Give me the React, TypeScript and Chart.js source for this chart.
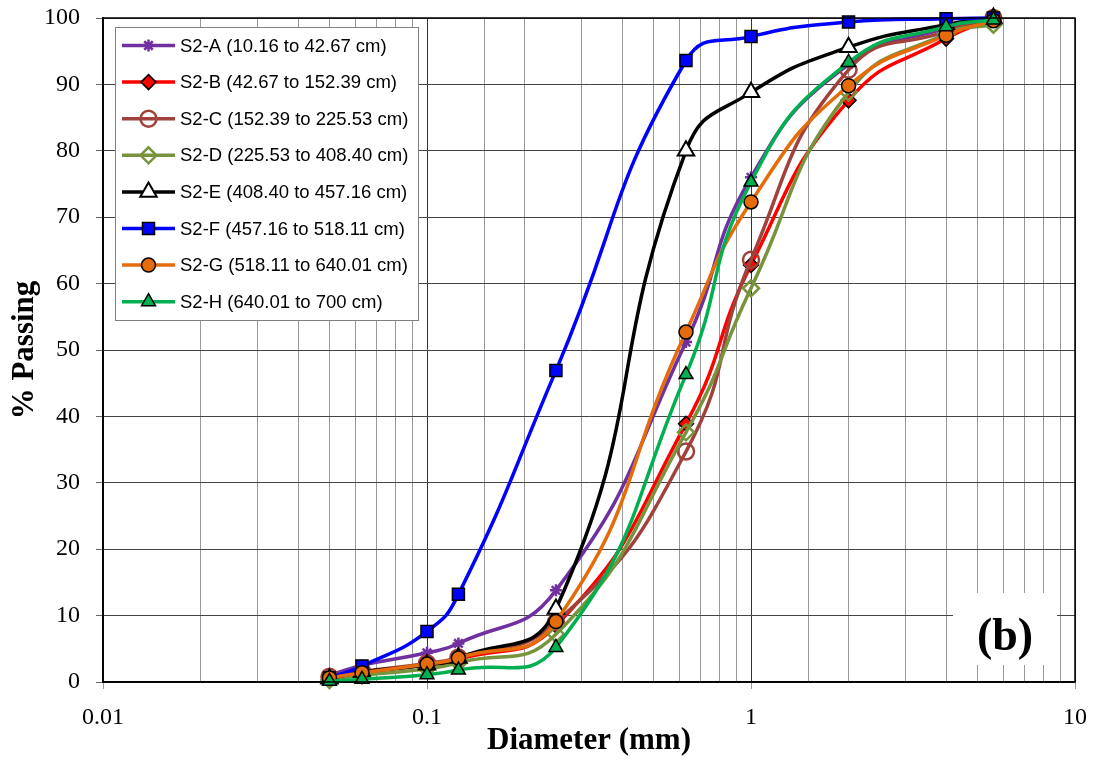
import React, { useEffect, useRef } from 'react';
import { Chart, registerables } from 'chart.js';

Chart.register(...registerables);

// ---- data ----
const sieveSizes = [0.05, 0.063, 0.1, 0.125, 0.25, 0.63, 1, 2, 4, 5.6];
const seriesNames = [
  'S2-A (10.16 to 42.67 cm)',
  'S2-B (42.67 to 152.39 cm)',
  'S2-C (152.39 to 225.53 cm)',
  'S2-D (225.53 to 408.40 cm)',
  'S2-E (408.40 to 457.16 cm)',
  'S2-F (457.16 to 518.11 cm)',
  'S2-G (518.11 to 640.01 cm)',
  'S2-H (640.01 to 700 cm)',
];
const s2A = [1.0, 2.5, 4.4, 5.8, 13.8, 51.2, 76.0, 93.0, 98.5, 100];
const s2B = [0.6, 1.4, 2.6, 3.4, 8.5, 38.9, 62.8, 87.6, 96.9, 100];
const s2C = [0.8, 1.6, 2.8, 3.7, 9.0, 34.7, 63.6, 92.2, 98.0, 100];
const s2D = [0.3, 1.0, 2.0, 2.9, 7.2, 37.6, 59.3, 88.8, 97.6, 99.0];
const s2E = [0.5, 1.5, 2.6, 3.6, 11.0, 80.0, 88.8, 95.6, 99.0, 100];
const s2F = [0.6, 2.4, 7.6, 13.2, 46.9, 93.6, 97.2, 99.4, 99.9, 100];
const s2G = [0.6, 1.4, 2.7, 3.6, 9.1, 52.7, 72.3, 89.8, 97.4, 99.6];
const s2H = [0.1, 0.4, 1.1, 1.8, 5.2, 46.3, 75.3, 93.3, 98.7, 99.7];
const seriesValues = [s2A, s2B, s2C, s2D, s2E, s2F, s2G, s2H];
const xTickLabels: Record<string, string> = { '-2': '0.01', '-1': '0.1', '0': '1', '1': '10' };
const yTicks = [0, 10, 20, 30, 40, 50, 60, 70, 80, 90, 100];

// ---- styles ----
const lineColors = ['#7030A0', '#FF0000', '#A0413C', '#77933C', '#000000', '#0000FF', '#E46C0A', '#00B050'];
const markerStyles = ['star', 'rectRot', 'circle', 'rectRot', 'triangle', 'rect', 'circle', 'triangle'];
const markerFill = ['#7030A0', '#FF0000', 'rgba(255,255,255,0)', 'rgba(255,255,255,0)', '#FFFFFF', '#0000FF', '#E46C0A', '#00B050'];
const markerStroke = ['#7030A0', '#000000', '#A0413C', '#77933C', '#000000', '#000000', '#000000', '#000000'];
const markerRadius = [6, 7.5, 8, 8, 9.5, 8.5, 7, 8];
const markerBorder = [2.5, 1.5, 2.5, 2.5, 2, 1.5, 1.5, 1.5];

function drawMarker(ctx: CanvasRenderingContext2D, i: number, x: number, y: number) {
  const r = markerRadius[i];
  const style = markerStyles[i];
  ctx.save();
  ctx.lineWidth = markerBorder[i];
  ctx.strokeStyle = markerStroke[i];
  ctx.fillStyle = markerFill[i];
  ctx.beginPath();
  if (style === 'circle') {
    ctx.arc(x, y, r, 0, Math.PI * 2);
  } else if (style === 'rect') {
    const s = r * Math.SQRT1_2;
    ctx.rect(x - s, y - s, 2 * s, 2 * s);
  } else if (style === 'rectRot') {
    ctx.moveTo(x, y - r);
    ctx.lineTo(x + r, y);
    ctx.lineTo(x, y + r);
    ctx.lineTo(x - r, y);
    ctx.closePath();
  } else if (style === 'triangle') {
    let rad = 0;
    ctx.moveTo(x + Math.sin(rad) * r, y - Math.cos(rad) * r);
    rad += (2 * Math.PI) / 3;
    ctx.lineTo(x + Math.sin(rad) * r, y - Math.cos(rad) * r);
    rad += (2 * Math.PI) / 3;
    ctx.lineTo(x + Math.sin(rad) * r, y - Math.cos(rad) * r);
    ctx.closePath();
  } else if (style === 'star') {
    const d = r * Math.SQRT1_2;
    ctx.moveTo(x - d, y - d); ctx.lineTo(x + d, y + d);
    ctx.moveTo(x + d, y - d); ctx.lineTo(x - d, y + d);
    ctx.moveTo(x, y - r); ctx.lineTo(x, y + r);
    ctx.moveTo(x - r, y); ctx.lineTo(x + r, y);
  }
  if (style !== 'star') ctx.fill();
  ctx.stroke();
  ctx.restore();
}

const isDecade = (v: number) => {
  const l = Math.log10(v);
  return Math.abs(l - Math.round(l)) < 1e-6;
};

const overlayPlugin = {
  id: 'overlay',
  beforeDatasetsDraw(chart: any) {
    const ctx: CanvasRenderingContext2D = chart.ctx;
    ctx.save();
    ctx.fillStyle = '#FFFFFF';
    ctx.fillRect(953, 593, 104, 72);
    ctx.fillStyle = '#000';
    ctx.font = 'bold 46px "Liberation Serif", "Times New Roman", serif';
    ctx.textAlign = 'center';
    ctx.textBaseline = 'middle';
    ctx.fillText('(b)', 1005, 638);
    ctx.restore();
  },
  afterDatasetsDraw(chart: any) {
    const ctx: CanvasRenderingContext2D = chart.ctx;
    const a = chart.chartArea;
    ctx.save();
    ctx.strokeStyle = '#000';
    ctx.lineWidth = 1.5;
    ctx.strokeRect(a.left, a.top, a.right - a.left, a.bottom - a.top);
    const lx = 115, ly = 27, lw = 303, lh = 293;
    ctx.fillStyle = '#FFFFFF';
    ctx.fillRect(lx, ly, lw, lh);
    ctx.strokeStyle = '#808080';
    ctx.lineWidth = 1;
    ctx.strokeRect(lx + 0.5, ly + 0.5, lw, lh);
    ctx.font = '18.5px "Liberation Sans", Arial, sans-serif';
    ctx.textBaseline = 'middle';
    ctx.textAlign = 'left';
    seriesNames.forEach((name, i) => {
      const y = 45.5 + i * 36.6;
      ctx.strokeStyle = lineColors[i];
      ctx.lineWidth = 3.5;
      ctx.beginPath();
      ctx.moveTo(122, y);
      ctx.lineTo(175, y);
      ctx.stroke();
      drawMarker(ctx, i, 148.5, y);
      ctx.fillStyle = '#000';
      ctx.fillText(name, 180, y + 1);
    });
    ctx.restore();
  },
};

export default function App() {
  const ref = useRef<HTMLCanvasElement>(null);
  useEffect(() => {
    document.body.style.margin = '0';
    const canvas = ref.current;
    if (!canvas) return;
    const datasets = seriesValues.map((vals, i) => ({
      label: seriesNames[i],
      data: vals.map((v, j) => ({ x: sieveSizes[j], y: v })),
      borderColor: lineColors[i],
      backgroundColor: markerFill[i],
      borderWidth: 3.5,
      tension: 0.5,
      pointStyle: markerStyles[i] as any,
      pointRadius: markerRadius[i],
      pointBorderWidth: markerBorder[i],
      pointBorderColor: markerStroke[i],
      pointBackgroundColor: markerFill[i],
      order: 8 - i,
      clip: false as any,
    }));
    const chart = new Chart(canvas, {
      type: 'line',
      data: { datasets },
      options: {
        responsive: false,
        animation: false,
        devicePixelRatio: 1,
        layout: { padding: { top: 18, right: 19, left: 0, bottom: 0 } },
        plugins: { legend: { display: false }, tooltip: { enabled: false } },
        scales: {
          x: {
            type: 'logarithmic',
            min: 0.01,
            max: 10,
            afterFit: (s: any) => { s.height = 79; s.paddingLeft = 0; s.paddingRight = 0; },
            border: { color: '#000', width: 1.5 },
            grid: {
              color: (c: any) => (c.tick && isDecade(c.tick.value) ? '#333' : '#999'),
              tickColor: (c: any) => (c.tick && isDecade(c.tick.value) ? '#999' : 'rgba(0,0,0,0)'),
              tickLength: 7,
              lineWidth: 1,
            },
            ticks: {
              autoSkip: false,
              maxRotation: 0,
              padding: 14,
              color: '#000',
              font: { family: '"Liberation Serif", "Times New Roman", serif', size: 24 },
              callback: (v: any) => {
                const n = Number(v);
                if (!isDecade(n)) return '';
                return xTickLabels[String(Math.round(Math.log10(n)))] ?? '';
              },
            },
            title: {
              display: true,
              text: 'Diameter (mm)',
              color: '#000',
              font: { family: '"Liberation Serif", "Times New Roman", serif', size: 31, weight: 'bold' },
              padding: { top: 0, bottom: 1 },
            },
          },
          y: {
            type: 'linear',
            min: 0,
            max: 100,
            afterFit: (s: any) => { s.width = 103; s.paddingTop = 0; s.paddingBottom = 0; },
            afterBuildTicks: (s: any) => { s.ticks = yTicks.map((v) => ({ value: v })); },
            border: { color: '#000', width: 1.5 },
            grid: { color: '#444', tickColor: '#666', tickLength: 7, lineWidth: 1 },
            ticks: {
              padding: 16,
              color: '#000',
              font: { family: '"Liberation Serif", "Times New Roman", serif', size: 24 },
            },
            title: {
              display: true,
              text: '% Passing',
              color: '#000',
              font: { family: '"Liberation Serif", "Times New Roman", serif', size: 31, weight: 'bold' },
              padding: { top: 6, bottom: 0 },
            },
          },
        },
      } as any,
      plugins: [overlayPlugin],
    });
    return () => chart.destroy();
  }, []);
  return (
    <div style={{ width: 1094, height: 761 }}>
      <canvas ref={ref} width={1094} height={761} style={{ display: 'block' }} />
    </div>
  );
}
